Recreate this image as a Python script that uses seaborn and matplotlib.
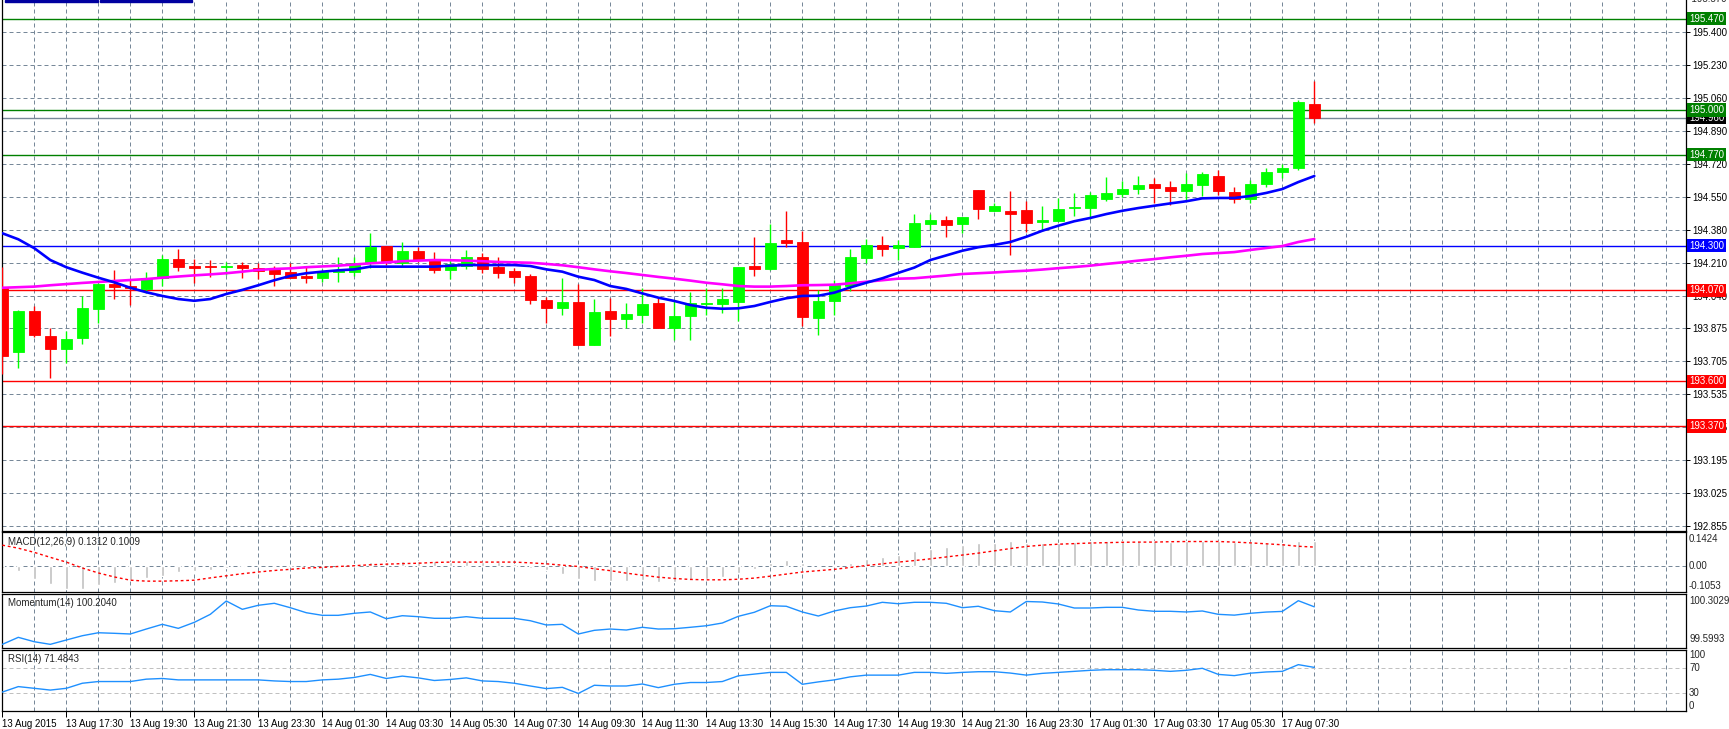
import matplotlib
matplotlib.use("Agg")
import matplotlib.pyplot as plt
import seaborn as sns
import numpy as np
import pandas as pd
from matplotlib.patches import Rectangle
from matplotlib.transforms import blended_transform_factory as btf

sns.set_theme(style="white")
plt.rcParams['font.family'] = ['Liberation Sans', 'DejaVu Sans']

# ---------------- data ----------------
opens = [194.083, 193.753, 193.963, 193.836, 193.767, 193.826, 193.975, 194.102, 194.092, 194.078,
         194.133, 194.231, 194.195, 194.195, 194.189, 194.200, 194.187, 194.181, 194.164, 194.144,
         194.135, 194.164, 194.164, 194.211, 194.300, 194.209, 194.274, 194.231, 194.175, 194.195,
         194.242, 194.189, 194.169, 194.144, 194.020, 193.980, 194.010, 193.790, 193.963, 193.924,
         193.944, 194.005, 193.877, 193.939, 194.000, 194.000, 194.011, 194.195, 194.180, 194.329,
         194.319, 193.929, 194.015, 194.092, 194.238, 194.304, 194.290, 194.295, 194.413, 194.432,
         194.413, 194.587, 194.480, 194.479, 194.484, 194.422, 194.427, 194.496, 194.496, 194.542,
         194.568, 194.594, 194.618, 194.603, 194.583, 194.614, 194.660, 194.575, 194.540, 194.620,
         194.680, 194.700, 195.030]
highs = [194.192, 193.970, 193.987, 193.877, 193.862, 194.042, 194.106, 194.175, 194.123, 194.164,
         194.252, 194.283, 194.231, 194.226, 194.216, 194.216, 194.209, 194.195, 194.209, 194.195,
         194.178, 194.242, 194.242, 194.367, 194.300, 194.321, 194.295, 194.269, 194.230, 194.279,
         194.262, 194.242, 194.183, 194.154, 194.037, 194.135, 194.104, 194.025, 194.030, 194.003,
         194.082, 194.037, 194.020, 194.063, 194.083, 194.083, 194.190, 194.345, 194.413, 194.479,
         194.377, 194.072, 194.123, 194.283, 194.334, 194.350, 194.328, 194.463, 194.463, 194.453,
         194.448, 194.587, 194.520, 194.582, 194.530, 194.505, 194.544, 194.572, 194.577, 194.656,
         194.635, 194.659, 194.649, 194.633, 194.675, 194.680, 194.690, 194.600, 194.640, 194.700,
         194.720, 195.050, 195.150]
lows = [193.637, 193.671, 193.828, 193.620, 193.697, 193.793, 193.900, 194.025, 193.996, 194.058,
        194.092, 194.171, 194.106, 194.140, 194.149, 194.135, 194.128, 194.094, 194.132, 194.109,
        194.111, 194.114, 194.142, 194.185, 194.199, 194.197, 194.218, 194.159, 194.130, 194.180,
        194.159, 194.133, 194.106, 194.000, 193.901, 193.943, 193.790, 193.790, 193.836, 193.877,
        193.903, 193.874, 193.814, 193.814, 193.944, 193.953, 193.912, 194.144, 194.175, 194.295,
        193.886, 193.841, 193.944, 194.066, 194.209, 194.247, 194.225, 194.295, 194.379, 194.346,
        194.365, 194.439, 194.480, 194.254, 194.371, 194.377, 194.427, 194.455, 194.439, 194.530,
        194.551, 194.568, 194.518, 194.511, 194.537, 194.555, 194.560, 194.520, 194.520, 194.600,
        194.650, 194.690, 194.930]
closes = [193.733, 193.963, 193.840, 193.769, 193.819, 193.979, 194.102, 194.089, 194.083, 194.133,
          194.231, 194.192, 194.187, 194.192, 194.195, 194.187, 194.171, 194.156, 194.135, 194.135,
          194.164, 194.175, 194.211, 194.293, 194.218, 194.274, 194.226, 194.175, 194.207, 194.242,
          194.181, 194.161, 194.139, 194.022, 193.980, 194.010, 193.790, 193.958, 193.924, 193.948,
          194.000, 193.877, 193.938, 194.005, 194.005, 194.025, 194.190, 194.180, 194.314, 194.315,
          193.934, 194.015, 194.096, 194.242, 194.304, 194.283, 194.302, 194.417, 194.432, 194.408,
          194.448, 194.491, 194.505, 194.465, 194.418, 194.432, 194.489, 194.501, 194.561, 194.572,
          194.592, 194.613, 194.599, 194.583, 194.618, 194.670, 194.580, 194.540, 194.620, 194.680,
          194.700, 195.040, 194.960]

ma_fast = [194.364, 194.333, 194.287, 194.226, 194.189, 194.161, 194.135, 194.111, 194.083, 194.060,
           194.041, 194.025, 194.016, 194.025, 194.051, 194.072, 194.096, 194.122, 194.144, 194.158,
           194.166, 194.173, 194.178, 194.192, 194.192, 194.192, 194.192, 194.192, 194.197, 194.200,
           194.200, 194.200, 194.200, 194.195, 194.178, 194.166, 194.140, 194.123, 194.092, 194.077,
           194.054, 194.032, 194.015, 193.994, 193.980, 193.975, 193.977, 193.989, 194.010, 194.029,
           194.041, 194.042, 194.058, 194.085, 194.109, 194.132, 194.160, 194.187, 194.226, 194.250,
           194.274, 194.292, 194.304, 194.319, 194.346, 194.377, 194.403, 194.426, 194.443, 194.463,
           194.480, 194.494, 194.506, 194.518, 194.529, 194.544, 194.546, 194.546, 194.556, 194.572,
           194.592, 194.628, 194.659]
ma_slow = [194.083, 194.086, 194.089, 194.096, 194.102, 194.108, 194.113, 194.118, 194.123, 194.128,
           194.135, 194.141, 194.147, 194.152, 194.158, 194.166, 194.175, 194.180, 194.183, 194.189,
           194.193, 194.197, 194.203, 194.209, 194.214, 194.220, 194.223, 194.226, 194.225, 194.223,
           194.220, 194.216, 194.214, 194.212, 194.206, 194.199, 194.189, 194.178, 194.168, 194.159,
           194.149, 194.139, 194.130, 194.120, 194.109, 194.101, 194.092, 194.089, 194.089, 194.092,
           194.096, 194.097, 194.099, 194.106, 194.114, 194.122, 194.130, 194.132, 194.139, 194.146,
           194.154, 194.158, 194.162, 194.167, 194.171, 194.177, 194.184, 194.190, 194.197, 194.206,
           194.214, 194.223, 194.231, 194.240, 194.248, 194.257, 194.262, 194.267, 194.278, 194.288,
           194.298, 194.319, 194.334]

macd_main = [-0.010, -0.026, -0.065, -0.095, -0.117, -0.117, -0.100, -0.087, -0.070, -0.062,
             -0.051, -0.031, -0.023, -0.017, -0.007, -0.002, 0.000, 0.001, 0.002, 0.003,
             0.004, 0.006, 0.010, 0.020, 0.020, 0.026, 0.028, 0.026, 0.022, 0.026,
             0.022, 0.022, 0.010, -0.008, -0.018, -0.040, -0.065, -0.075, -0.078, -0.078,
             -0.073, -0.082, -0.085, -0.072, -0.068, -0.058, -0.035, -0.016, 0.015, 0.032,
             0.015, -0.002, 0.008, 0.018, 0.039, 0.049, 0.059, 0.080, 0.090, 0.100,
             0.111, 0.121, 0.124, 0.131, 0.124, 0.121, 0.124, 0.127, 0.131, 0.131,
             0.134, 0.134, 0.131, 0.127, 0.134, 0.134, 0.134, 0.128, 0.126, 0.124,
             0.122, 0.131, 0.1312]
macd_signal = [0.111, 0.095, 0.073, 0.047, 0.022, -0.009, -0.035, -0.056, -0.073, -0.078,
               -0.078, -0.076, -0.073, -0.061, -0.050, -0.039, -0.030, -0.022, -0.016, -0.009,
               -0.006, -0.001, 0.003, 0.008, 0.011, 0.014, 0.016, 0.020, 0.022, 0.022,
               0.022, 0.022, 0.022, 0.018, 0.013, 0.006, -0.001, -0.013, -0.023, -0.036,
               -0.047, -0.057, -0.064, -0.069, -0.071, -0.071, -0.068, -0.062, -0.052, -0.041,
               -0.030, -0.023, -0.016, -0.006, 0.004, 0.013, 0.022, 0.030, 0.039, 0.049,
               0.059, 0.069, 0.081, 0.093, 0.104, 0.111, 0.116, 0.119, 0.122, 0.124,
               0.126, 0.127, 0.127, 0.129, 0.130, 0.130, 0.130, 0.127, 0.123, 0.118,
               0.113, 0.105, 0.1009]
momentum = [99.599, 99.712, 99.641, 99.599, 99.669, 99.738, 99.786, 99.777, 99.766, 99.846,
            99.922, 99.857, 99.954, 100.083, 100.298, 100.164, 100.229, 100.261, 100.190, 100.109,
            100.067, 100.067, 100.100, 100.121, 100.012, 100.061, 100.045, 100.019, 100.019, 100.045,
            100.019, 100.019, 100.019, 99.980, 99.911, 99.922, 99.766, 99.825, 99.846, 99.830,
            99.874, 99.846, 99.851, 99.874, 99.899, 99.943, 100.051, 100.116, 100.222, 100.213,
            100.121, 100.056, 100.137, 100.190, 100.217, 100.277, 100.254, 100.277, 100.277, 100.261,
            100.190, 100.213, 100.142, 100.121, 100.290, 100.282, 100.250, 100.185, 100.185, 100.196,
            100.196, 100.153, 100.132, 100.132, 100.121, 100.137, 100.083, 100.070, 100.100, 100.120,
            100.130, 100.3029, 100.204]
rsi = [31.0, 40.0, 37.2, 34.3, 37.2, 45.5, 48.3, 48.3, 48.3, 52.2,
       53.3, 51.0, 51.0, 51.0, 51.0, 51.0, 51.0, 49.3, 48.3, 48.3,
       51.0, 52.2, 55.0, 60.0, 53.3, 57.2, 54.3, 50.0, 51.7, 54.3,
       49.3, 48.3, 45.5, 41.0, 36.7, 38.8, 28.8, 42.2, 41.0, 41.0,
       44.3, 38.3, 43.8, 46.7, 46.7, 48.3, 57.7, 60.5, 63.3, 63.3,
       43.8, 47.7, 51.0, 56.0, 58.8, 58.8, 58.8, 63.3, 63.3, 61.7,
       63.3, 64.4, 64.4, 62.2, 58.8, 61.7, 63.3, 65.0, 66.7, 67.7,
       67.7, 67.7, 66.7, 65.0, 66.7, 70.0, 60.0, 58.0, 62.0, 64.0,
       65.0, 76.0, 71.4843]

date_labels = ["13 Aug 2015", "13 Aug 17:30", "13 Aug 19:30", "13 Aug 21:30", "13 Aug 23:30",
               "14 Aug 01:30", "14 Aug 03:30", "14 Aug 05:30", "14 Aug 07:30", "14 Aug 09:30",
               "14 Aug 11:30", "14 Aug 13:30", "14 Aug 15:30", "14 Aug 17:30", "14 Aug 19:30",
               "14 Aug 21:30", "16 Aug 23:30", "17 Aug 01:30", "17 Aug 03:30", "17 Aug 05:30",
               "17 Aug 07:30"]
price_ticks = [195.400, 195.230, 195.060, 194.890, 194.720, 194.550, 194.380, 194.210, 194.040,
               193.875, 193.705, 193.535, 193.365, 193.195, 193.025, 192.855]
level_values = [195.470, 195.000, 194.960, 194.770, 194.300, 194.070, 193.600, 193.370]
level_colors = ["#008000", "#008000", "#000000", "#008000", "#0000FF", "#FF0000", "#FF0000", "#FF0000"]
level_line_colors = ["#008000", "#008000", "#778899", "#008000", "#0000FF", "#FF0000", "#FF0000", "#FF0000"]

# ---------------- figure ----------------
W, H = 1729, 729
fig = plt.figure(figsize=(W / 100, H / 100), dpi=100)
fig.patch.set_facecolor("white")

def rect(top, bottom, left=2, right=1686):
    return [left / W, 1 - bottom / H, (right - left) / W, (bottom - top) / H]

ax = fig.add_axes(rect(0, 531))
ax_macd = fig.add_axes(rect(532, 592))
ax_mom = fig.add_axes(rect(594, 648))
ax_rsi = fig.add_axes(rect(650, 711))

n = len(closes)
x = np.arange(n)
XLIM = (-0.019, 105.23)
GRID = "#778899"
DASH = (0, (4, 3))
FS = 7

df = pd.DataFrame({"x": x, "o": opens, "h": highs, "l": lows, "c": closes,
                   "fast": ma_fast, "slow": ma_slow, "macd": macd_main, "sig": macd_signal,
                   "mom": momentum, "rsi": rsi})

for a in (ax, ax_macd, ax_mom, ax_rsi):
    a.set_facecolor("white")
    a.set_xlim(*XLIM)
    for s in a.spines.values():
        s.set_color("black")
        s.set_linewidth(0.9)
    a.vlines(np.arange(2, 106, 2), 0, 1, transform=btf(a.transData, a.transAxes),
             colors=GRID, linewidth=0.72, linestyles=[DASH], zorder=0.5)
    a.tick_params(axis="x", which="both", length=0, labelbottom=False)
    a.set_xlabel("")
    a.set_ylabel("")

# ---------------- main panel ----------------
ax.set_ylim(192.8292, 195.5665)
ax.spines["top"].set_visible(False)
ax.hlines(price_ticks, *XLIM, colors=GRID, linewidth=0.72, linestyles=[DASH], zorder=0.5)
for v, c in zip(level_values, level_line_colors):
    ax.axhline(v, color=c, linewidth=1.0, zorder=1)

up = df["c"] >= df["o"]
colors = np.where(up, "#00FF00", "#FF0000")
ax.vlines(df["x"], df["l"], df["h"], colors=colors, linewidth=1.0, zorder=3)
ax.bar(df["x"], df["c"] - df["o"], bottom=df["o"], width=0.69, color=colors,
       edgecolor=colors, linewidth=0.6, zorder=4)

sns.lineplot(data=df, x="x", y="slow", ax=ax, color="#FF00FF", linewidth=1.9, zorder=5,
             estimator=None, sort=False)
sns.lineplot(data=df, x="x", y="fast", ax=ax, color="#0000FF", linewidth=1.9, zorder=6,
             estimator=None, sort=False)
ax.set_xlim(*XLIM)
ax.set_xlabel("")
ax.set_ylabel("")

ax.yaxis.tick_right()
ax.set_yticks(price_ticks)
ax.set_yticklabels([f"{t:.3f}" for t in price_ticks])
ax.tick_params(axis="y", which="both", direction="out", length=3, width=0.72,
               pad=1.5, labelsize=FS, colors="black", right=True, left=False)
ax.text(1.0, 195.570, "  195.570", transform=btf(ax.transAxes, ax.transData),
        fontsize=FS, va="center", ha="left", clip_on=False)

for v, c in zip(level_values, level_colors):
    z = 9 if c == "#000000" else 10
    ax.text(1.0 + 3 / 1684, v, f"{v:.3f}", transform=btf(ax.transAxes, ax.transData),
            fontsize=FS, va="center", ha="left", color="white", zorder=z,
            bbox=dict(boxstyle="square,pad=0.18", fc=c, ec="none"))

# top-left small navy objects
fig.add_artist(Rectangle((5 / W, 1 - 2 / H), 93 / W, 2 / H, transform=fig.transFigure,
                         color="#0000A0", zorder=20))
fig.add_artist(Rectangle((100 / W, 1 - 2 / H), 92 / W, 2 / H, transform=fig.transFigure,
                         color="#0000A0", zorder=20))

# ---------------- MACD ----------------
ax_macd.set_ylim(-0.135, 0.18)
ax_macd.axhline(0, color=GRID, linewidth=0.72, linestyle=DASH, zorder=0.5)
ax_macd.bar(df["x"], df["macd"], width=0.16, color="#C0C0C0", zorder=2)
sns.lineplot(data=df, x="x", y="sig", ax=ax_macd, color="#FF0000", linewidth=1.0,
             linestyle=(0, (2, 2)), zorder=3, estimator=None, sort=False)
ax_macd.set_xlim(*XLIM)
ax_macd.set_yticks([])
ax_macd.set_xlabel("")
ax_macd.set_ylabel("")
tr = btf(ax_macd.transAxes, ax_macd.transData)
for v, s in [(0.1424, "0.1424"), (0.0, "0.00"), (-0.1053, "-0.1053")]:
    ax_macd.text(1.0 + 3 / 1684, v, s, transform=tr, fontsize=FS, va="center", ha="left")
ax_macd.text(6 / 1684, 0.83, f"MACD(12,26,9) {macd_main[-1]:.4f} {macd_signal[-1]:.4f}",
             transform=ax_macd.transAxes, fontsize=FS, va="center", ha="left")

# ---------------- Momentum ----------------
ax_mom.set_ylim(99.540, 100.411)
sns.lineplot(data=df, x="x", y="mom", ax=ax_mom, color="#1E90FF", linewidth=1.0,
             zorder=3, estimator=None, sort=False)
ax_mom.set_xlim(*XLIM)
ax_mom.set_yticks([])
ax_mom.set_xlabel("")
ax_mom.set_ylabel("")
tr = btf(ax_mom.transAxes, ax_mom.transData)
ax_mom.text(1.0 + 3 / 1684, 100.3029, "100.3029", transform=tr, fontsize=FS, va="center", ha="left")
ax_mom.text(1.0 + 3 / 1684, 99.5993, "99.5993", transform=tr, fontsize=FS, va="bottom", ha="left")
ax_mom.text(6 / 1684, 0.83, f"Momentum(14) {100.2040:.4f}",
            transform=ax_mom.transAxes, fontsize=FS, va="center", ha="left")

# ---------------- RSI ----------------
ax_rsi.set_ylim(0, 100)
for lv in (70, 30):
    ax_rsi.axhline(lv, color="#C0C0C0", linewidth=0.72, linestyle=DASH, zorder=0.6)
sns.lineplot(data=df, x="x", y="rsi", ax=ax_rsi, color="#1E90FF", linewidth=1.0,
             zorder=3, estimator=None, sort=False)
ax_rsi.set_xlim(*XLIM)
ax_rsi.set_yticks([])
ax_rsi.set_ylabel("")
tr = btf(ax_rsi.transAxes, ax_rsi.transData)
for v, s, va in [(100, "100", "top"), (70, "70", "center"), (30, "30", "center"), (0, "0", "bottom")]:
    ax_rsi.text(1.0 + 3 / 1684, v, s, transform=tr, fontsize=FS, va=va, ha="left")
ax_rsi.text(6 / 1684, 0.86, f"RSI(14) {rsi[-1]:.4f}",
            transform=ax_rsi.transAxes, fontsize=FS, va="center", ha="left")

tick_pos = np.arange(0, 4 * len(date_labels), 4)
ax_rsi.set_xticks(tick_pos)
ax_rsi.set_xticklabels(date_labels, ha="left")
ax_rsi.tick_params(axis="x", direction="out", length=4, width=0.72, pad=1.5,
                   labelsize=FS, labelbottom=True, bottom=True, colors="black")
ax_rsi.set_xlabel("")

fig.savefig("out.png", dpi=100, facecolor="white")
